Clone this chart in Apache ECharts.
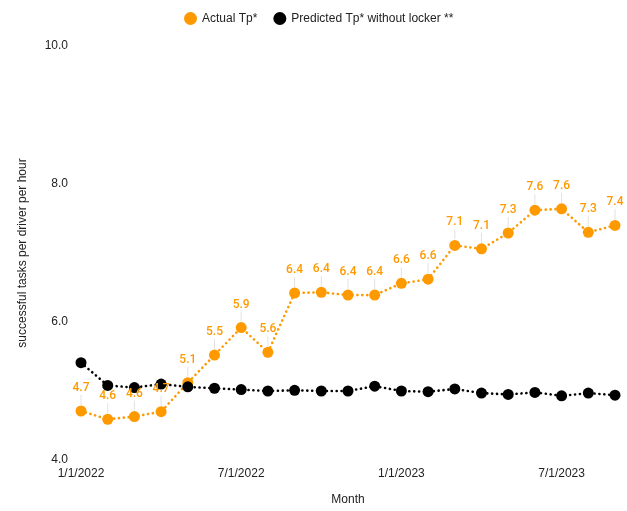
<!DOCTYPE html>
<html>
<head>
<meta charset="utf-8">
<script src="https://cdn.jsdelivr.net/npm/echarts@6/dist/echarts.min.js"></script>
<style>
  html, body { margin: 0; padding: 0; background: #ffffff; }
  #chart { width: 627px; height: 511px; }
</style>
</head>
<body>
<div id="chart"></div>
<script>
// Monthly throughput: successful tasks per driver per hour
const months = [
  '1/1/2022', '2/1/2022', '3/1/2022', '4/1/2022', '5/1/2022', '6/1/2022',
  '7/1/2022', '8/1/2022', '9/1/2022', '10/1/2022', '11/1/2022', '12/1/2022',
  '1/1/2023', '2/1/2023', '3/1/2023', '4/1/2023', '5/1/2023', '6/1/2023',
  '7/1/2023', '8/1/2023', '9/1/2023'
];
const actualTp = [
  4.71, 4.59, 4.63, 4.70, 5.12, 5.52, 5.92, 5.56, 6.42, 6.43, 6.39,
  6.39, 6.56, 6.62, 7.11, 7.06, 7.29, 7.62, 7.64, 7.30, 7.40
];
const predictedTp = [
  5.41, 5.08, 5.05, 5.10, 5.06, 5.04, 5.02, 5.00, 5.01, 5.00, 5.00,
  5.07, 5.00, 4.99, 5.03, 4.97, 4.95, 4.98, 4.93, 4.97, 4.94
];
const seriesNames = ['Actual Tp*', 'Predicted Tp* without locker **'];
const yMin = 4, yMax = 10, yStep = 2;

const textFont = '"Liberation Sans", Arial, sans-serif';
const orange = '#FF9900';
const dotted = { width: 2.6, type: [0.1, 4.8], cap: 'round' };

const chart = echarts.init(document.getElementById('chart'), null, { renderer: 'canvas' });

// Value callouts for the actual series: a thin grey leader from the dot up to the number,
// drawn on their own layer so numbers stay readable where the two series cross.
function renderCallout(params, api) {
  const pt = api.coord([api.value(0), api.value(1)]);
  return {
    type: 'group',
    children: [
      {
        type: 'line',
        shape: { x1: pt[0], y1: pt[1] - 6, x2: pt[0], y2: pt[1] - 16 },
        style: { stroke: '#e2e2e2', lineWidth: 1 }
      },
      {
        type: 'text',
        x: pt[0],
        y: pt[1] - 23,
        style: {
          text: api.value(1).toFixed(1),
          fill: orange,
          fontFamily: 'Roboto, sans-serif',
          fontSize: 12,
          fontWeight: 500,
          align: 'center',
          verticalAlign: 'middle'
        }
      }
    ]
  };
}

chart.setOption({
  animation: false,
  backgroundColor: '#ffffff',
  legend: {
    data: seriesNames,
    left: 179,
    top: 7,
    icon: 'circle',
    itemWidth: 13,
    itemHeight: 13,
    itemGap: 16,
    textStyle: { fontFamily: textFont, fontSize: 12, color: '#222' }
  },
  grid: { left: 81, right: 12, top: 46, bottom: 51, containLabel: false },
  xAxis: {
    type: 'category',
    data: months,
    boundaryGap: false,
    name: 'Month',
    nameLocation: 'middle',
    nameGap: 34,
    nameTextStyle: { fontFamily: textFont, fontSize: 12, color: '#222' },
    axisLine: { show: false },
    axisTick: { show: false },
    splitLine: { show: false },
    axisLabel: {
      interval: 5,
      margin: 8,
      fontFamily: textFont,
      fontSize: 12,
      color: '#222'
    }
  },
  yAxis: {
    type: 'value',
    min: yMin,
    max: yMax,
    interval: yStep,
    name: 'successful tasks per driver per hour',
    nameLocation: 'middle',
    nameGap: 52,
    nameTextStyle: { fontFamily: textFont, fontSize: 12, color: '#222' },
    axisLine: { show: false },
    axisTick: { show: false },
    splitLine: { show: false },
    axisLabel: {
      margin: 13,
      fontFamily: textFont,
      fontSize: 12,
      color: '#222',
      formatter: v => v.toFixed(1)
    }
  },
  series: [
    {
      name: seriesNames[0],
      type: 'line',
      data: actualTp,
      symbol: 'circle',
      symbolSize: 11,
      z: 2,
      itemStyle: { color: orange },
      lineStyle: Object.assign({ color: orange }, dotted)
    },
    {
      name: seriesNames[1],
      type: 'line',
      data: predictedTp,
      symbol: 'circle',
      symbolSize: 11,
      z: 3,
      itemStyle: { color: '#000000' },
      lineStyle: Object.assign({ color: '#000000' }, dotted)
    },
    {
      type: 'custom',
      zlevel: 1,
      z: 4,
      silent: true,
      renderItem: renderCallout,
      data: actualTp.map((v, i) => [i, v])
    }
  ]
});
</script>
</body>
</html>
